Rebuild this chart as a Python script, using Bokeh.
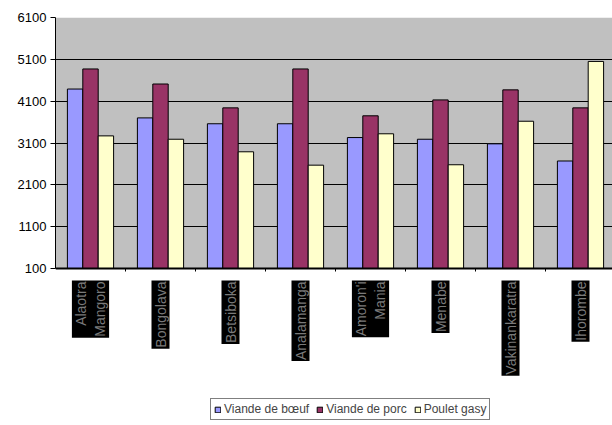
import math
from bokeh.plotting import figure
from bokeh.models import (ColumnDataSource, FixedTicker, Label, Legend, LegendItem,
                          Range1d, BoxAnnotation)
from bokeh.embed import file_html
from bokeh.resources import INLINE

categories = ["Alaotra Mangoro", "Bongolava", "Betsiboka", "Analamanga",
              "Amoron'i Mania", "Menabe", "Vakinankaratra", "Ihorombe"]
tick_labels = ["Alaotra\nMangoro", "Bongolava", "Betsiboka", "Analamanga",
               "Amoron'i\nMania", "Menabe", "Vakinankaratra", "Ihorombe"]
series_names = ["Viande de bœuf", "Viande de porc", "Poulet gasy"]
beef = [4390, 3700, 3560, 3560, 3230, 3190, 3080, 2670]
pork = [4870, 4510, 3940, 4870, 3750, 4130, 4370, 3940]
chicken = [3270, 3190, 2890, 2570, 3320, 2580, 3620, 5050]
y_ticks = [100, 1100, 2100, 3100, 4100, 5100, 6100]
colors = ["#9999FF", "#993366", "#FFFFCC"]

FONT = "Liberation Sans"

W, H = 612, 425
LEFT, TOP = 55, 17
PLOT_PX = 251                      # pixel height of the 100..6100 value span
CAT_PX = 70                        # pixel width of one category
upp = (y_ticks[-1] - y_ticks[0]) / PLOT_PX
below_px = H - TOP - PLOT_PX
y_start = y_ticks[0] - below_px * upp
x_end = (W - LEFT) / CAT_PX

p = figure(width=W, height=H,
           x_range=Range1d(0, x_end), y_range=Range1d(y_start, y_ticks[-1]),
           output_backend="svg", toolbar_location=None,
           min_border_left=LEFT, min_border_right=0,
           min_border_top=TOP, min_border_bottom=0)

p.background_fill_color = "white"
p.border_fill_color = "white"
p.outline_line_color = None

# grey plot area
p.add_layout(BoxAnnotation(bottom=y_ticks[0], top=y_ticks[-1], fill_color="#C0C0C0",
                           fill_alpha=1, line_color=None, level="image"))

# grid
p.xgrid.visible = False
p.ygrid.ticker = FixedTicker(ticks=y_ticks)
p.ygrid.grid_line_color = "black"
p.ygrid.grid_line_alpha = 1.0
p.ygrid.grid_line_width = 1

# y axis
p.yaxis.ticker = FixedTicker(ticks=y_ticks)
p.yaxis.bounds = (y_ticks[0], y_ticks[-1])
p.yaxis.major_label_text_font = FONT
p.yaxis.major_label_text_font_size = "13px"
p.yaxis.major_label_text_color = "black"
p.yaxis.major_tick_out = 5
p.yaxis.major_tick_in = 0
p.yaxis.minor_tick_line_color = None
p.yaxis.axis_line_color = "black"
p.yaxis.major_label_standoff = 4

# x axis at value 100: tick marks between categories
n = len(categories)
p.xaxis.fixed_location = y_ticks[0]
p.xaxis.ticker = FixedTicker(ticks=list(range(1, n)))
p.xaxis.major_label_overrides = {i: "" for i in range(1, n)}
p.xaxis.major_tick_out = 3
p.xaxis.major_tick_in = 0
p.xaxis.minor_tick_line_color = None
p.xaxis.axis_line_color = "black"
p.xaxis.axis_line_width = 2

bw = 0.22
renderers = []
for k, vals in enumerate([beef, pork, chicken]):
    src = ColumnDataSource(dict(
        x=[i + 0.5 + (k - 1) * bw for i in range(n)],
        top=vals,
        cat=categories,
    ))
    r = p.vbar(x="x", top="top", bottom=y_ticks[0], width=bw, source=src,
               fill_color=colors[k], line_color="black", line_width=1)
    renderers.append(r)

label_y = y_ticks[0] - 12 * upp
for i, lab in enumerate(tick_labels):
    lbl = Label(x=i + 0.5, y=label_y, x_units="data", y_units="data",
                text=lab, angle=math.pi / 2, text_align="right",
                text_baseline="middle", text_font=FONT,
                text_font_size="14px", text_color="#7a7a7a",
                background_fill_color="black", text_line_height=1.2)
    if hasattr(lbl, "padding"):
        lbl.padding = 1
    p.add_layout(lbl)

legend = Legend(items=[LegendItem(label=series_names[k], renderers=[renderers[k]])
                       for k in range(3)],
                location=(155, 5), orientation="horizontal")
legend.border_line_color = "black"
legend.border_line_width = 1
legend.background_fill_color = "white"
legend.background_fill_alpha = 1
legend.label_text_font = FONT
legend.label_text_font_size = "12px"
legend.label_height = 14
legend.glyph_width = 7
legend.glyph_height = 7
legend.label_standoff = 3
legend.spacing = 7
legend.padding = 3
legend.margin = 0
p.add_layout(legend)

open("out.html", "w").write(file_html(p, INLINE))
